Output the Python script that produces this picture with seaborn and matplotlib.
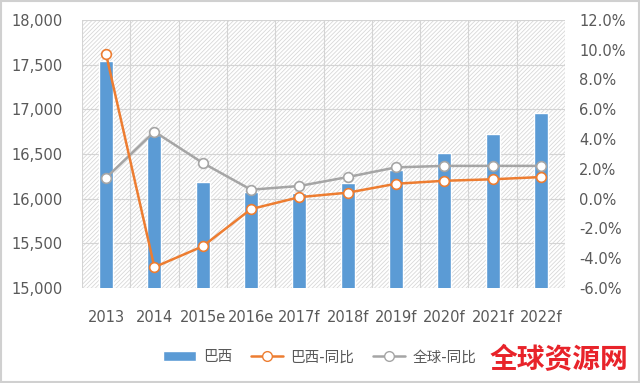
import numpy as np
import pandas as pd
import matplotlib
matplotlib.use("Agg")
import matplotlib.pyplot as plt
from matplotlib.patches import Rectangle
from matplotlib.lines import Line2D
from matplotlib.ticker import FuncFormatter, MultipleLocator
import seaborn as sns

# data
years = ["2013", "2014", "2015e", "2016e", "2017f", "2018f", "2019f", "2020f", "2021f", "2022f"]
brazil = [17540, 16710, 16185, 16075, 16060, 16175, 16320, 16510, 16720, 16955]
brazil_yoy = [9.7, -4.6, -3.2, -0.7, 0.1, 0.4, 1.0, 1.2, 1.3, 1.45]
global_yoy = [1.4, 4.5, 2.4, 0.6, 0.85, 1.45, 2.1, 2.2, 2.2, 2.2]

df = pd.DataFrame({"year": years, "brazil": brazil,
                   "brazil_yoy": brazil_yoy, "global_yoy": global_yoy})

sns.set_theme(style="white")
plt.rcParams["font.family"] = ["DejaVu Sans", "Noto Sans CJK SC"]
plt.rcParams["hatch.linewidth"] = 0.6

blue = "#5B9BD5"
orange = "#ED7D31"
grey = "#A5A5A5"
txt = "#595959"

fig = plt.figure(figsize=(6.4, 3.83), dpi=100)
ax = fig.add_axes([0.128, 0.248, 0.755, 0.700])

# hatched plot background
ax.add_patch(Rectangle((0, 0), 1, 1, transform=ax.transAxes, facecolor="white",
                       edgecolor="#d8d8d8", hatch="////////", lw=0, zorder=0))

sns.barplot(data=df, x="year", y="brazil", color=blue, width=0.29,
            saturation=1, ax=ax, zorder=2)
ax.set_ylim(15000, 18000)
ax.yaxis.set_major_locator(MultipleLocator(500))
ax.yaxis.set_major_formatter(FuncFormatter(lambda v, p: f"{int(v):,}"))
ax.set_xlim(-0.5, len(years) - 0.5)
ax.set_xticks(np.arange(len(years) + 1) - 0.5, minor=True)
ax.grid(axis="y", color="#d4d4d4", lw=0.8, zorder=1)
ax.grid(axis="x", which="minor", color="#d4d4d4", lw=0.8, zorder=1)
ax.set_axisbelow(True)
ax.set_xlabel("")
ax.set_ylabel("")
ax.tick_params(axis="y", length=0, pad=14, labelsize=10.5, labelcolor=txt)
ax.tick_params(axis="x", which="both", length=0, pad=16, labelsize=10.5, labelcolor=txt)
for s in ax.spines.values():
    s.set_visible(False)

ax2 = ax.twinx()
sns.lineplot(data=df, x="year", y="brazil_yoy", color=orange, lw=1.8, marker="o",
             markersize=7, markerfacecolor="white", markeredgecolor=orange,
             markeredgewidth=1.2, ax=ax2, zorder=4)
sns.lineplot(data=df, x="year", y="global_yoy", color=grey, lw=1.8, marker="o",
             markersize=7, markerfacecolor="white", markeredgecolor=grey,
             markeredgewidth=1.2, ax=ax2, zorder=3)
ax2.set_ylim(-6, 12)
ax2.yaxis.set_major_locator(MultipleLocator(2))
ax2.yaxis.set_major_formatter(FuncFormatter(lambda v, p: f"{v:.1f}%"))
ax2.set_ylabel("")
ax2.tick_params(axis="y", length=0, pad=10, labelsize=10.5, labelcolor=txt)
for s in ax2.spines.values():
    s.set_visible(False)
ax2.grid(False)

handles = [
    Rectangle((0, 0), 1, 1, facecolor=blue),
    Line2D([], [], color=orange, lw=1.8, marker="o", markersize=7,
           markerfacecolor="white", markeredgecolor=orange),
    Line2D([], [], color=grey, lw=1.8, marker="o", markersize=7,
           markerfacecolor="white", markeredgecolor=grey),
]
fig.legend(handles, ["巴西", "巴西-同比", "全球-同比"], loc="center",
           bbox_to_anchor=(0.5, 0.068), ncol=3, frameon=False, fontsize=10.5,
           labelcolor=txt, handlelength=2.2, columnspacing=1.3, handletextpad=0.5)

# watermark
fig.text(0.873, 0.06, "全球资源网", color="#e8232a", fontsize=20, fontweight="bold",
         ha="center", va="center", family=["Noto Sans CJK SC"])

# outer frame
fig.patches.append(Rectangle((0.002, 0.003), 0.996, 0.994, transform=fig.transFigure,
                             fill=False, edgecolor="#d0d0d0", lw=1.5))

fig.savefig("out.png", dpi=100)
